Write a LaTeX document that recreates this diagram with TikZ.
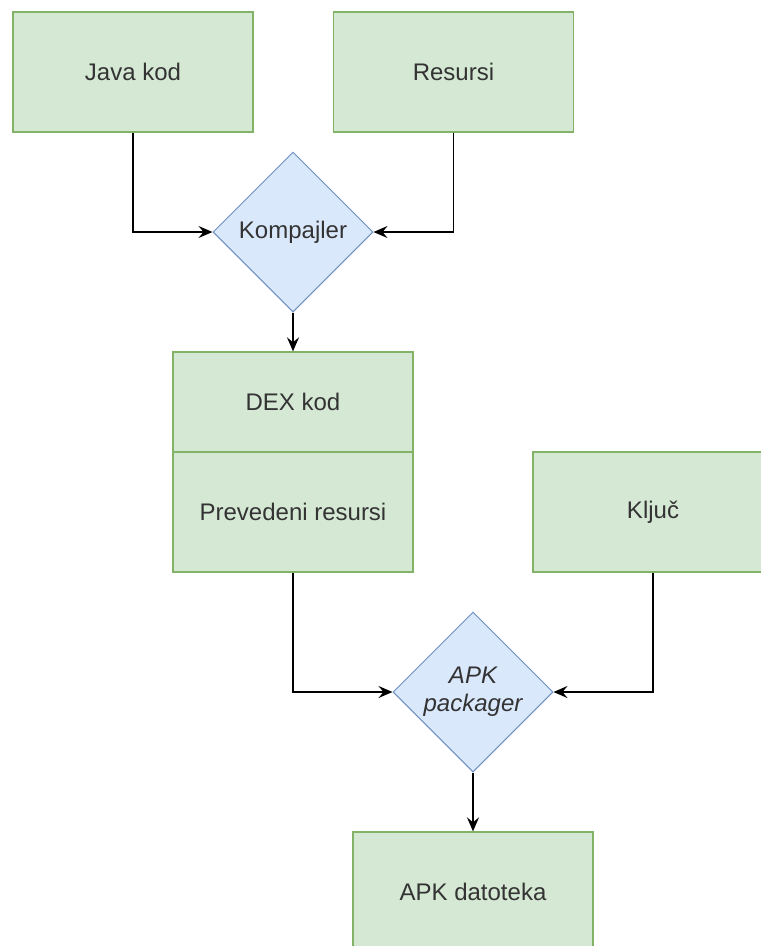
\documentclass[tikz,border=0pt]{standalone}
\usepackage{fontspec}
\setmainfont{Liberation Sans}
\usetikzlibrary{shapes.geometric,arrows.meta}
\definecolor{gfill}{HTML}{D5E8D4}
\definecolor{gdraw}{HTML}{82B366}
\definecolor{bfill}{HTML}{DAE8FC}
\definecolor{bdraw}{HTML}{6C8EBF}
\definecolor{txt}{HTML}{333333}
\begin{document}
\begin{tikzpicture}[x=1pt,y=-1pt,
  every node/.style={font=\fontsize{24}{28}\selectfont, text=txt},
  gbox/.style={rectangle, draw=gdraw, fill=gfill, line width=1.3pt, inner sep=0pt, minimum width=240pt},
  dia/.style={diamond, aspect=1, draw=bdraw, fill=bfill, line width=1pt, inner sep=0pt, minimum size=160pt, align=center},
  arr/.style={draw=black, line width=1.6pt, -{Stealth[length=14pt,width=12pt,inset=5pt]}}]
\clip (0,0) rectangle (761,946);
\fill[white] (0,0) rectangle (761,946);
\node[gbox, minimum height=120pt] (java) at (133,72) {Java kod};
\node[gbox, minimum height=120pt] (res) at (453.5,72) {Resursi};
\node[dia] (komp) at (293,232) {Kompajler};
\node[gbox, minimum height=100pt] (dex) at (293,402) {DEX kod};
\node[gbox, minimum height=120pt] (prev) at (293,512) {Prevedeni resursi};
\node[gbox, minimum height=120pt] (kljuc) at (653,512) {Ključ};
\node[dia] (apk) at (473,692) {\itshape APK\\\itshape packager};
\node[gbox, minimum height=120pt] (dat) at (473,892) {APK datoteka};
\draw[arr] (java.south) |- (komp.west);
\draw[arr] (res.south) |- (komp.east);
\draw[arr] (komp.south) -- (dex.north);
\draw[arr] (prev.south) |- (apk.west);
\draw[arr] (kljuc.south) |- (apk.east);
\draw[arr] (apk.south) -- (dat.north);
\end{tikzpicture}
\end{document}
